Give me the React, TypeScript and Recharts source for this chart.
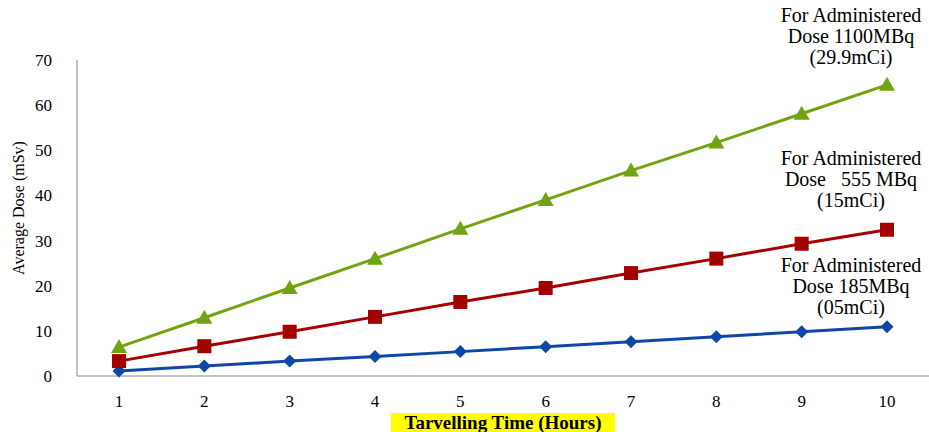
import { LineChart, Line, XAxis, YAxis, LabelList, Label } from 'recharts';

// Travelling time (hours)
const hours = [1, 2, 3, 4, 5, 6, 7, 8, 9, 10];
// Average dose (mSv) for each administered activity
const dose185 = [1.1, 2.2, 3.3, 4.3, 5.4, 6.5, 7.6, 8.7, 9.8, 10.9];
const dose555 = [3.3, 6.6, 9.8, 13.1, 16.4, 19.5, 22.8, 26.0, 29.3, 32.4];
const dose1100 = [6.4, 12.9, 19.5, 26.0, 32.6, 39.0, 45.5, 51.7, 58.1, 64.5];
const yTicks = [0, 10, 20, 30, 40, 50, 60, 70];

const label185 = ['For Administered', 'Dose 185MBq', '(05mCi)'];
const label555 = ['For Administered', 'Dose   555 MBq', '(15mCi)'];
const label1100 = ['For Administered', 'Dose 1100MBq', '(29.9mCi)'];

const data = hours.map((h, i) => ({
  hour: h,
  d185: dose185[i],
  d555: dose555[i],
  d1100: dose1100[i],
}));

const BLUE = '#0E47A6';
const RED = '#A50000';
const GREEN = '#72A311';
const FONT = '"Liberation Serif", "Times New Roman", serif';

const Diamond = (p: any) => {
  const { cx, cy, index } = p;
  const s = 6.5;
  return (
    <path key={'d' + index} d={`M${cx},${cy - s}L${cx + s},${cy}L${cx},${cy + s}L${cx - s},${cy}Z`} fill={BLUE} />
  );
};
const Square = (p: any) => {
  const { cx, cy, index } = p;
  const s = 7;
  return <rect key={'s' + index} x={cx - s} y={cy - s} width={2 * s} height={2 * s} fill={RED} />;
};
const Triangle = (p: any) => {
  const { cx, cy, index } = p;
  return (
    <path key={'t' + index} d={`M${cx},${cy - 8}L${cx + 8},${cy + 6}L${cx - 8},${cy + 6}Z`} fill={GREEN} />
  );
};

// annotation drawn above the last point of a series
const endNote = (lines: string[], dy: number) => (p: any) => {
  const { x, y, index } = p;
  if (index !== hours.length - 1) return null;
  return (
    <text key="note" textAnchor="middle" fontFamily={FONT} fontSize={20} fill="#000">
      {lines.map((t, i) => (
        <tspan key={i} x={x - 36} y={y + dy + i * 21} style={{ whiteSpace: 'pre' }}>
          {t}
        </tspan>
      ))}
    </text>
  );
};

const XTitle = (p: any) => {
  const vb = p.viewBox;
  const cx = vb.x + vb.width / 2;
  return (
    <g>
      <rect x={cx - 112} y={413} width={224} height={19} fill="#FFFF00" />
      <text x={cx} y={429} textAnchor="middle" fontFamily={FONT} fontSize={19} fontWeight="bold" fill="#000">
        Tarvelling Time (Hours)
      </text>
    </g>
  );
};

const YTitle = (p: any) => {
  const vb = p.viewBox;
  const cy = vb.y + vb.height / 2 - 10;
  return (
    <text
      x={18}
      y={cy}
      transform={`rotate(-90, 18, ${cy})`}
      textAnchor="middle"
      dominantBaseline="central"
      fontFamily={FONT}
      fontSize={16}
      fill="#000"
    >
      Average Dose (mSv)
    </text>
  );
};

export default function App() {
  return (
    <div style={{ position: 'absolute', left: 0, top: 0, width: 929, height: 432, background: '#fff' }}>
      <LineChart width={929} height={432} data={data} margin={{ top: 60, right: 0, bottom: 26, left: 0 }}>
        <XAxis
          dataKey="hour"
          stroke="#868686"
          tickLine={false}
          tickSize={0}
          tickMargin={19}
          padding={{ left: 42, right: 42 }}
          tick={{ fill: '#000', fontFamily: FONT, fontSize: 17 }}
          height={30}
        >
          <Label content={<XTitle />} />
        </XAxis>
        <YAxis
          domain={[0, 70]}
          ticks={yTicks}
          width={77}
          stroke="#868686"
          tickLine={false}
          tickSize={0}
          tickMargin={25}
          tick={{ fill: '#000', fontFamily: FONT, fontSize: 17 }}
        >
          <Label content={<YTitle />} />
        </YAxis>
        <Line dataKey="d185" stroke={BLUE} strokeWidth={3} dot={Diamond} activeDot={false} isAnimationActive={false}>
          <LabelList dataKey="d185" content={endNote(label185, -55)} />
        </Line>
        <Line dataKey="d555" stroke={RED} strokeWidth={3} dot={Square} activeDot={false} isAnimationActive={false}>
          <LabelList dataKey="d555" content={endNote(label555, -65)} />
        </Line>
        <Line dataKey="d1100" stroke={GREEN} strokeWidth={3} dot={Triangle} activeDot={false} isAnimationActive={false}>
          <LabelList dataKey="d1100" content={endNote(label1100, -63)} />
        </Line>
      </LineChart>
    </div>
  );
}
